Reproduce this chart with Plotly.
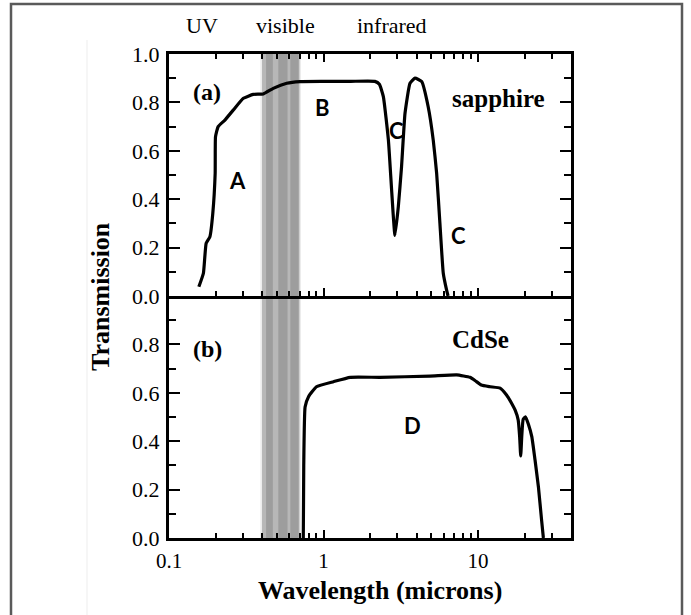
import plotly.graph_objects as go

# ---------------- data ----------------
# Panel (a): sapphire transmission
lam_sapphire = [0.156, 0.167, 0.174, 0.184, 0.192, 0.199, 0.200, 0.208, 0.230, 0.261,
                0.303, 0.351, 0.408, 0.473, 0.578, 0.705, 1.0, 1.5, 2.15, 2.30,
                2.44, 2.63, 2.76, 2.90, 3.05, 3.20, 3.37, 3.63, 3.91, 4.32,
                4.76, 5.13, 5.40, 5.67, 5.96, 6.26, 6.40]
T_sapphire = [0.038, 0.094, 0.218, 0.245, 0.340, 0.507, 0.658, 0.700, 0.727, 0.769,
              0.817, 0.833, 0.835, 0.858, 0.879, 0.886, 0.887, 0.887, 0.887, 0.875,
              0.824, 0.645, 0.438, 0.250, 0.369, 0.534, 0.755, 0.879, 0.900, 0.886,
              0.782, 0.645, 0.507, 0.300, 0.094, 0.025, 0.0]

# Panel (b): CdSe transmission
lam_cdse = [0.740, 0.745, 0.760, 0.800, 0.900, 1.16, 1.49, 2.32, 4.89, 7.28,
            8.87, 9.6, 10.5, 12.0, 13.9, 15.3, 16.5, 17.4, 18.2, 18.6,
            18.9, 19.2, 19.6, 20.3, 21.2, 22.3, 23.4, 24.6, 25.8, 26.5]
T_cdse = [0.0, 0.300, 0.541, 0.584, 0.625, 0.646, 0.664, 0.664, 0.669, 0.674,
          0.664, 0.650, 0.632, 0.625, 0.619, 0.591, 0.557, 0.528, 0.488, 0.420,
          0.339, 0.420, 0.490, 0.501, 0.470, 0.419, 0.322, 0.212, 0.074, 0.0]

# visible band (microns) and stripe texture inside it
visible_band = [0.40, 0.70]
band_halo = [0.39, 0.715]
band_stripes = [(0.425, 0.470), (0.510, 0.585), (0.610, 0.690)]

x_major = [0.1, 1, 10]
x_major_text = ["0.1", "1", "10"]
x_minor = [0.2, 0.3, 0.4, 0.5, 0.6, 0.7, 0.8, 0.9,
           2, 3, 4, 5, 6, 7, 8, 9, 20, 30, 40]
y_major_a = [0.0, 0.2, 0.4, 0.6, 0.8, 1.0]
y_major_b = [0.0, 0.2, 0.4, 0.6, 0.8]
y_minor = [0.1, 0.3, 0.5, 0.7, 0.9]

region_labels = ["UV", "visible", "infrared"]

# ---------------- layout geometry ----------------
W, H = 691, 615
ML, MR, MT, MB = 169, 120, 54, 77
PW, PH = W - ML - MR, H - MT - MB


def px(x):
    return (x - ML) / PW


def py(y):
    return (H - MB - y) / PH


SERIF = "Liberation Serif"
SANS = "Lato"

fig = go.Figure()


def rect(x0, x1, xa, ya, color):
    fig.add_trace(go.Scatter(x=[x0, x1, x1, x0, x0], y=[0, 0, 1, 1, 0], xaxis=xa, yaxis=ya,
                             mode="lines", fill="toself", fillcolor=color,
                             line=dict(width=0), hoverinfo="skip", showlegend=False))


# visible band in both panels
for xa, ya in (("x", "y"), ("x2", "y2")):
    rect(band_halo[0], band_halo[1], xa, ya, "rgba(150,150,150,0.18)")
    rect(visible_band[0], visible_band[1], xa, ya, "rgba(120,120,120,0.45)")
    for s0, s1 in band_stripes:
        rect(s0, s1, xa, ya, "rgba(70,70,70,0.22)")

# curves
fig.add_trace(go.Scatter(x=lam_sapphire, y=T_sapphire, xaxis="x2", yaxis="y2", mode="lines",
                         line=dict(color="black", width=3.2, shape="spline", smoothing=0.4),
                         showlegend=False, name="sapphire"))
fig.add_trace(go.Scatter(x=lam_cdse, y=T_cdse, xaxis="x", yaxis="y", mode="lines",
                         line=dict(color="black", width=3.2, shape="spline", smoothing=0.4),
                         showlegend=False, name="CdSe"))

xtickfont = dict(family=SERIF, size=21, color="black")
ytickfont = dict(family=SERIF, size=22, color="black")
xcommon = dict(type="log", range=[-1, 1.602], tickmode="array", tickvals=x_major,
               ticks="inside", ticklen=8, tickwidth=2, tickcolor="black",
               showline=True, linewidth=3, linecolor="black", showgrid=False, zeroline=False,
               minor=dict(tickmode="array", tickvals=x_minor, ticks="inside", ticklen=5,
                          tickwidth=2, tickcolor="black", showgrid=False),
               tickfont=xtickfont)
ycommon = dict(range=[0, 1], ticks="inside", ticklen=11, tickwidth=2, tickcolor="black",
               showline=True, linewidth=3, linecolor="black", showgrid=False, zeroline=False,
               mirror="allticks", tickmode="array",
               minor=dict(tickmode="array", tickvals=y_minor, ticks="inside", ticklen=7,
                          tickwidth=2, tickcolor="black", showgrid=False),
               tickfont=ytickfont, ticklabelstandoff=2)

fig.update_layout(
    width=W, height=H, margin=dict(l=ML, r=MR, t=MT, b=MB),
    paper_bgcolor="white", plot_bgcolor="white",
    xaxis=dict(**xcommon, anchor="y", ticktext=x_major_text, mirror=False, ticklabelstandoff=2),
    xaxis2=dict(**xcommon, anchor="y2", matches="x", showticklabels=False, mirror="allticks"),
    yaxis=dict(**ycommon, domain=[0, 0.5], tickvals=y_major_b,
               ticktext=[f"{v:.1f}" for v in y_major_b]),
    yaxis2=dict(**ycommon, domain=[0.5, 1], tickvals=y_major_a,
                ticktext=[f"{v:.1f}" for v in y_major_a]),
)

ann = []


def add_text(text, x, y, family, size, bold=False, angle=0):
    t = f"<b>{text}</b>" if bold else text
    ann.append(dict(text=t, x=px(x), y=py(y), xref="paper", yref="paper", showarrow=False,
                    xanchor="center", yanchor="middle", textangle=angle,
                    font=dict(family=family, size=size, color="black")))


for lbl, xx in zip(region_labels, [202, 285, 392]):
    add_text(lbl, xx, 26, SERIF, 22)
add_text("(a)", 207, 92, SERIF, 24, bold=True)
add_text("(b)", 207, 349, SERIF, 24, bold=True)
add_text("sapphire", 498, 98, SERIF, 25, bold=True)
add_text("CdSe", 480, 340, SERIF, 25, bold=True)
add_text("A", 237, 180, SANS, 22, bold=True)
add_text("B", 322, 107, SANS, 22, bold=True)
add_text("C", 396, 130, SANS, 22, bold=True)
add_text("C", 458, 236, SANS, 22, bold=True)
add_text("D", 412, 425, SANS, 22, bold=True)
add_text("Transmission", 100, 297, SERIF, 26, bold=True, angle=-90)
add_text("Wavelength (microns)", 380, 590, SERIF, 26, bold=True)
fig.update_layout(annotations=ann)

# outer frame (scan border) and faint page edge
fig.add_shape(type="path", xref="paper", yref="paper",
              path=f"M {px(11)},{py(625)} L {px(11)},{py(4)} L {px(682)},{py(4)} L {px(682)},{py(625)}",
              line=dict(color="#5a5a5a", width=2.5))
fig.add_shape(type="line", xref="paper", yref="paper", x0=px(87), x1=px(87), y0=py(40), y1=py(615),
              line=dict(color="rgba(0,0,0,0.05)", width=1.5))

fig.write_html("out.html")
